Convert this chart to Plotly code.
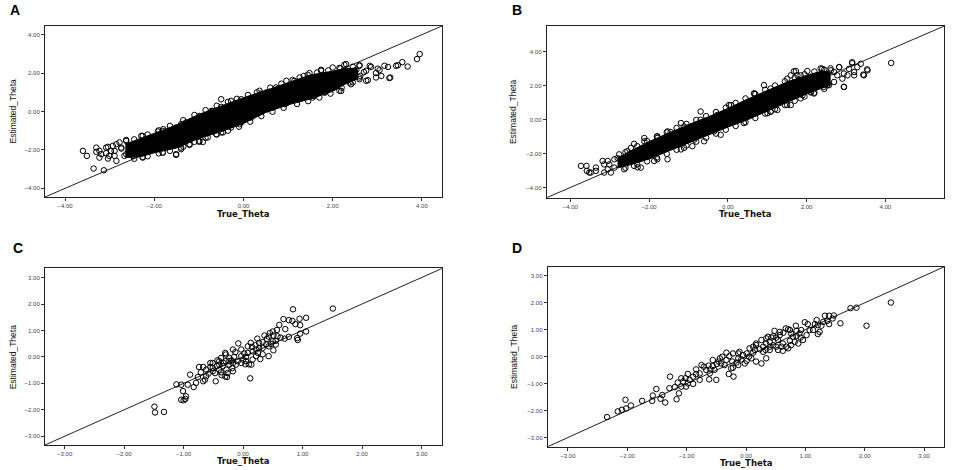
import plotly.graph_objects as go

# ---------------- Panel A ----------------
# outline of the solid (fully overlapped) part of the point cloud
a_core_top_x = [-2.65, -2.3, -2.0, -1.5, -1.0, -0.5, 0.0, 0.5, 1.0, 1.5, 2.0, 2.3, 2.55]
a_core_top_y = [-1.7, -1.4, -1.15, -0.7, -0.15, 0.3, 0.72, 1.1, 1.5, 1.9, 2.1, 2.25, 2.25]
a_core_bot_x = [2.55, 2.3, 2.0, 1.5, 1.0, 0.5, 0.0, -0.5, -1.0, -1.5, -2.0, -2.3, -2.65]
a_core_bot_y = [1.7, 1.45, 1.05, 0.65, 0.35, -0.05, -0.62, -1.05, -1.4, -1.9, -2.15, -2.35, -2.4]

# individually visible circles
a_true = [3.95, 3.89, 3.68, 3.56, 3.42, 3.27, 3.16, 3.05, 2.97, 2.83, 2.75, 2.60, 2.53, 2.45, 2.75,
          2.60, 2.38, 2.15, 2.0, 1.82, 1.55, 1.29, 1.11, 0.96, 0.66, 0.36, 0.51, 0.73, 0.96, 1.26,
          1.48, 1.74, 2.0, 2.30, 2.17, -0.50, -0.69, -0.99, -1.29, -1.51, -1.81, -2.26, -2.63, -2.78,
          -2.93, -3.08, -3.30, -3.30, -3.60, -3.51, -3.23, -3.08, -3.04, -2.89, -2.85, -3.36, -3.13,
          -2.63, -2.48, -2.26, -1.81, -1.51, -1.40, -1.21, -0.99, -0.91, -0.61, -0.46, -0.09, 0.21,
          -3.23, -2.97, -2.74, -2.52,
          -2.63, -2.29, -1.92, -1.80, -1.40, -1.17, -0.72, -0.50, -0.28, -0.05,
          -2.26, -1.81, -1.51, -1.40, -1.21, -0.99, -0.80, -0.50, -0.28, -0.05, 0.17,
          -3.19, -3.04, -3.01, -2.89, -2.85, -2.74, -2.67,
          0.40, 0.70, 1.14, 1.44, 1.74, 2.26, 2.60, 2.86, 3.01, 3.24, 3.46, 3.29, 3.09, 2.97, 2.79, 2.60,
          0.55, 0.92, 1.22, 1.59, 1.82, 2.19, 2.41, 2.50, 2.62, 2.45, 2.70]
a_est = [2.99, 2.73, 2.34, 2.57, 2.38, 1.74, 2.38, 2.15, 2.0, 2.38, 2.12, 2.38, 2.17, 1.94, 1.60,
         1.68, 1.51, 1.08, 1.25, 0.99, 0.73, 0.73, 0.56, 0.42, 0.21, 1.08, 0.99, 1.25, 1.60, 1.77,
         2.0, 2.17, 2.29, 2.47, 2.24, 0.64, 0.03, -0.23, -0.57, -0.83, -1.01, -1.27, -1.53, -1.61,
         -1.79, -1.88, -1.88, -2.10, -2.05, -2.31, -2.40, -2.17, -2.45, -2.31, -2.57, -2.97, -3.06,
         -2.22, -2.31, -2.40, -2.14, -2.22, -1.96, -1.74, -1.53, -1.58, -1.18, -1.09, -0.66, -0.23,
         -2.05, -2.05, -1.93, -1.88,
         -1.48, -1.27, -1.04, -0.92, -0.66, -0.49, 0.03, 0.24, 0.55, 0.64,
         -2.36, -2.14, -2.26, -1.88, -1.70, -1.58, -1.35, -1.09, -0.83, -0.57, -0.31,
         -2.22, -1.84, -2.31, -2.05, -1.70, -1.88, -2.31,
         0.94, 1.07, 1.59, 1.91, 2.12, 2.43, 2.41, 2.32, 2.23, 2.32, 2.41, 1.77, 1.85, 1.77, 1.63, 1.77,
         0.12, 0.38, 0.64, 0.81, 0.99, 1.07, 1.42, 2.0, 1.85, 1.75, 2.05]
# circles sitting on the rim of the solid cloud
a_rim_true = [-2.45, -2.15, -1.9, -1.65, -1.35, -1.1, -0.85, -0.6, -0.35, -0.15, 0.1, 0.3, 0.6, 0.85,
              1.1, 1.35, 1.65, 1.9, 2.15, 2.45,
              -2.45, -2.15, -1.9, -1.65, -1.35, -1.1, -0.85, -0.6, -0.35, -0.1, 0.15, 0.4, 0.65, 0.9,
              1.2, 1.45, 1.7, 1.95, 2.2, 2.45]
a_rim_est = [-1.45, -1.2, -0.98, -0.75, -0.45, -0.18, 0.07, 0.3, 0.5, 0.66, 0.86, 1.0, 1.24, 1.45,
             1.64, 1.85, 2.03, 2.14, 2.27, 2.33,
             -2.46, -2.33, -2.18, -2.05, -1.83, -1.58, -1.37, -1.2, -1.0, -0.79, -0.53, -0.24, -0.01,
             0.19, 0.39, 0.54, 0.73, 0.93, 1.24, 1.52]

# ---------------- Panel B ----------------
b_core_top_x = [-2.8, -2.5, -2.0, -1.5, -1.0, -0.5, 0.0, 0.5, 1.0, 1.5, 2.0, 2.4, 2.6]
b_core_top_y = [-2.25, -1.9, -1.3, -0.8, -0.3, 0.15, 0.65, 1.2, 1.7, 2.2, 2.6, 2.85, 2.8]
b_core_bot_x = [2.6, 2.4, 2.0, 1.5, 1.0, 0.5, 0.0, -0.5, -1.0, -1.5, -2.0, -2.5, -2.8]
b_core_bot_y = [2.0, 1.85, 1.5, 1.0, 0.5, -0.02, -0.45, -0.92, -1.38, -1.88, -2.32, -2.68, -2.85]

b_true = [4.15, 3.54, 3.38, 3.16, 3.29, 3.08, 3.21, 3.44, 2.95, 2.83, 2.70, 2.62, 2.57, 2.44, 2.40,
          2.28, 2.11, 1.90, 1.68, 1.77, 1.51, 1.26, 1.09, 0.92, 0.67, 0.41, 0.03, -0.69, -1.19, -1.53,
          -1.79, -2.12, -2.38, -2.55, -2.76, -2.88, -3.05, -3.14, -3.35, -3.52, -3.59, -3.73, -3.58,
          -3.35, -3.14, -3.05, -2.88, -2.63, -2.38, -2.21, -1.79, -1.53, -1.19, -0.85, -0.35, 0.41,
          1.01, 1.51, 1.85, 2.11, 3.04, 2.91, 2.78,
          -3.48, -3.18, -3.01, -2.97, -2.80, -2.63, -2.50, -2.46, -2.29,
          -2.12, -1.79, -1.45, -1.11, -0.69, -0.26,
          -1.87, -1.11, -0.90, -0.60, -0.18,
          0.08, 0.67, 1.09, 1.60, 1.73, 1.85, 2.02, 2.36, 2.61, 2.83, 3.16, 3.55, 3.46, 3.21, 2.95,
          1.09, 1.60, 2.19, 2.53, 2.95, 2.70]
b_est = [3.33, 2.95, 3.28, 3.37, 3.08, 2.98, 2.79, 2.64, 1.92, 3.08, 2.79, 2.89, 2.02, 1.92, 2.98,
         2.60, 1.63, 1.43, 2.83, 2.60, 2.40, 0.56, 0.47, 2.02, 1.53, 0.85, 0.85, 0.47, -0.21, -0.70,
         -1.09, -1.09, -1.43, -1.86, -2.05, -2.34, -2.44, -2.64, -2.83, -3.12, -2.73, -2.73, -3.02,
         -3.02, -3.12, -2.93, -2.83, -2.93, -2.73, -2.83, -2.34, -2.34, -1.76, -1.18, -0.70, -0.21,
         0.37, 0.85, 1.24, 1.59, 2.60, 2.40, 2.60,
         -3.12, -2.44, -2.64, -3.12, -2.27, -2.56, -2.06, -1.67, -2.81,
         -1.28, -0.99, -0.74, -0.41, -0.02, 0.27,
         -2.44, -1.67, -1.57, -1.28, -0.90,
         0.85, 1.53, 1.82, 2.60, 2.85, 2.60, 2.85, 3.01, 3.01, 3.08, 3.31, 2.89, 2.60, 2.60, 2.70,
         0.46, 0.85, 1.53, 2.01, 1.92, 2.21]
b_rim_true = [-2.6, -2.3, -2.05, -1.8, -1.55, -1.3, -1.05, -0.8, -0.55, -0.3, -0.05, 0.2, 0.45, 0.7,
              0.95, 1.2, 1.45, 1.7, 1.95, 2.2, 2.45,
              -2.6, -2.3, -2.05, -1.8, -1.55, -1.3, -1.05, -0.8, -0.55, -0.3, -0.05, 0.2, 0.45, 0.7,
              0.95, 1.2, 1.45, 1.7, 1.95, 2.2, 2.45]
b_rim_est = [-1.93, -1.57, -1.27, -1.0, -0.76, -0.5, -0.26, -0.03, 0.2, 0.44, 0.7, 0.97, 1.24, 1.5,
             1.75, 2.0, 2.25, 2.45, 2.66, 2.82, 2.93,
             -2.84, -2.64, -2.46, -2.24, -2.02, -1.78, -1.53, -1.3, -1.07, -0.83, -0.6, -0.38, -0.16,
             0.09, 0.35, 0.6, 0.85, 1.1, 1.35, 1.58, 1.8]

# ---------------- Panel C ----------------
c_true = [1.51, 0.84, 0.68, 0.77, 0.83, 0.95, 1.06, 0.88, 0.96, 0.61, 0.71, 0.57, 1.06, 0.96, 0.77,
          0.70, 0.91, 0.92, 0.50, 0.45, 0.51, 0.58, 0.63, 0.55, 0.43, 0.36, 0.40, 0.33, 0.39, 0.24,
          0.27, 0.21, 0.15, -0.08, 0.51, 0.43, 0.33, 0.29, 0.12, 0.22, 0.16, 0.08, 0.02, 0.05, -0.03,
          0.0, -0.09, 0.10, 0.04, -0.15, -0.19, -0.23, -0.29, -0.30, -0.37, -0.40, -0.33, -0.23, -0.18,
          -0.28, -0.27, -0.30, -0.36, -0.46, -0.44, -0.51, -0.55, -0.51, -0.58, -0.62, -0.67, -0.74,
          -0.71, -0.76, -0.79, -0.83, -0.89, -0.93, -1.04, -1.12, -1.01, -0.96, -0.97, -1.04, -1.00,
          -1.49, -1.48, -1.33, -0.64, -0.67, -0.37, -0.13, -0.17, -0.29, -0.43, -0.51, 0.16, 0.22,
          0.25, 0.43, 0.47, 0.33, 0.27, 0.13, 0.08, -0.03, 0.50, 0.55, -0.17, -0.12, -0.03, -0.23,
          -0.34, -0.40, -0.55, -0.62, -0.40, -0.47, -0.17, -0.26, 0.05, 0.14]
c_est = [1.83, 1.80, 1.43, 1.39, 1.36, 1.44, 1.48, 1.24, 1.20, 1.21, 1.05, 1.02, 0.96, 0.88, 0.76,
         0.69, 0.71, 0.64, 0.96, 0.90, 0.81, 0.78, 0.73, 0.61, 0.77, 0.81, 0.68, 0.56, 0.47, 0.69,
         0.53, 0.44, 0.38, 0.51, 0.25, 0.03, 0.10, -0.08, -0.81, 0.28, 0.21, 0.15, 0.13, 0.0, 0.03,
         -0.10, -0.16, -0.28, -0.28, 0.0, -0.13, -0.04, 0.09, 0.15, -0.04, -0.16, -0.23, -0.29, -0.42,
         -0.48, -0.76, -0.74, -0.69, -0.92, -0.35, -0.42, -0.38, -0.54, -0.63, -0.73, -0.38, -0.38,
         -0.58, -0.76, -0.98, -1.14, -0.67, -1.05, -1.05, -1.04, -1.29, -1.49, -1.59, -1.62, -1.64,
         -1.88, -2.10, -2.08, -0.86, -0.92, -0.58, 0.18, 0.28, -0.16, -0.13, -0.23, -0.10, 0.03,
         0.15, 0.40, 0.49, 0.34, 0.34, 0.53, 0.40, 0.28, 0.59, 0.47, -0.23, -0.29, -0.23, -0.16,
         -0.35, -0.48, -0.23, -0.48, -0.29, -0.61, -0.54, -0.61, -0.16, -0.29]

# ---------------- Panel D ----------------
d_true = [2.44, 2.03, 1.86, 1.76, 1.59, 1.48, 1.40, 1.33, 1.37, 1.40, 1.27, 1.21, 1.19, 1.24, 1.21,
          1.13, 1.04, 0.99, 0.93, 1.02, 0.96, 0.92, 0.85, 0.84, 0.74, 0.71, 0.79, 0.74, 0.63, 0.57,
          0.48, 0.54, 0.62, 0.68, 0.71, 0.62, 0.54, 0.46, 0.40, 0.37, 0.43, 0.34, 0.29, 0.33, 0.23,
          0.17, 0.15, 0.12, 0.26, 0.05, 0.01, -0.05, -0.08, 0.01, -0.13, -0.16, -0.23, -0.28, -0.33,
          -0.36, -0.40, -0.44, -0.46, -0.49, -0.56, -0.53, -0.29, -0.22, -0.60, -0.63, -0.67, -0.71,
          -0.62, -0.50, -0.78, -0.84, -0.89, -0.98, -1.02, -1.06, -0.98, -0.89, -1.01, -1.09, -1.13,
          -1.17, -1.20, -1.28, -1.29, -1.36, -1.41, -1.44, -1.51, -1.57, -1.58, -1.75, -2.03, -1.94,
          -2.02, -2.09, -2.16, -2.34, 0.88, 0.82, 0.51, 0.40, 0.34, 0.17, 0.09, -0.11, -0.22, -0.33,
          -0.42, -0.21, -0.25, -0.13, -0.02, 0.06, 0.17, 0.26, 0.34, 0.46, 0.51, 0.57, 0.67, 0.85,
          1.07, 1.16, 1.30, 1.46, -0.84, -0.75, -0.95, -1.09, -1.15, -0.78, -0.61, -0.56, -0.13,
          0.12, 0.29, 0.40, 0.60, 0.76, 0.76, 0.90]
d_est = [2.01, 1.15, 1.82, 1.80, 1.24, 1.53, 1.52, 1.52, 1.33, 1.21, 1.15, 1.17, 1.36, 0.92, 0.84,
         0.99, 1.21, 1.28, 0.99, 0.80, 0.62, 0.71, 0.96, 1.15, 0.99, 1.02, 0.74, 0.59, 0.89, 0.80,
         0.96, 0.62, 0.49, 0.37, 0.31, 0.22, 0.25, 0.43, 0.55, 0.74, 0.71, 0.49, 0.37, 0.25, 0.28,
         0.43, 0.25, 0.15, -0.25, 0.0, 0.12, 0.06, -0.10, -0.16, -0.06, -0.22, -0.18, 0.02, -0.12,
         -0.31, 0.0, -0.06, -0.18, -0.27, -0.35, -0.49, -0.64, -0.41, -0.47, -0.33, -0.49, -0.37,
         -0.84, -0.86, -0.62, -0.65, -0.74, -0.64, -0.80, -0.92, -0.99, -1.01, -1.11, -1.11, -1.36,
         -1.58, -1.13, -0.74, -1.17, -1.70, -1.42, -1.56, -1.20, -1.44, -1.64, -1.64, -1.60, -1.81,
         -1.92, -1.97, -2.03, -2.24, 0.49, 0.55, 0.37, 0.25, -0.06, -0.18, -0.06, 0.18, 0.12, 0.15,
         -0.25, -0.74, -0.43, -0.31, -0.25, 0.31, 0.49, 0.62, 0.68, 0.76, 0.71, 0.92, 1.05, 0.76,
         0.99, 1.21, 1.29, 1.42, -0.47, -0.31, -0.86, -0.80, -0.96, -0.86, -0.62, -0.12, 0.12,
         0.37, 0.18, 0.37, 0.37, 0.43, 0.86, 0.86]

# tick values and axis ranges (identity line runs corner to corner)
ab_ticks = [-4, -2, 0, 2, 4]
cd_ticks = [-3, -2, -1, 0, 1, 2, 3]
range_a = [-4.45, 4.45]
range_b = [-4.6, 5.5]
range_c = [-3.33, 3.35]
range_d = [-3.34, 3.34]

# ---------------- layout helpers (page body margin removed below) ----------------
W, H = 964, 470


def xfrac(px):
    return px / W


def yfrac(py):
    return 1 - py / H


panels = [
    dict(name="A", core=(a_core_top_x, a_core_top_y, a_core_bot_x, a_core_bot_y),
         pts=(a_true + a_rim_true, a_est + a_rim_est), rng=range_a, ticks=ab_ticks,
         box=(45, 442, 26, 197), xt=-17, yt=-32, lab=(15, 10)),
    dict(name="B", core=(b_core_top_x, b_core_top_y, b_core_bot_x, b_core_bot_y),
         pts=(b_true + b_rim_true, b_est + b_rim_est), rng=range_b, ticks=ab_ticks,
         box=(546.7, 944.3, 26, 197.7), xt=-16, yt=-33.5, lab=(517, 10)),
    dict(name="C", core=None, pts=(c_true, c_est), rng=range_c, ticks=cd_ticks,
         box=(45, 442.3, 268.3, 445), xt=-15.5, yt=-32.3, lab=(18, 248)),
    dict(name="D", core=None, pts=(d_true, d_est), rng=range_d, ticks=cd_ticks,
         box=(547.7, 944.3, 266.7, 446.7), xt=-16.5, yt=-34.4, lab=(517, 248)),
]

fig = go.Figure()
layout = dict(
    width=W, height=H,
    margin=dict(l=0, r=0, t=0, b=0),
    paper_bgcolor="white", plot_bgcolor="white",
    showlegend=False,
    font=dict(family="Liberation Sans, Arial, sans-serif", color="black"),
)
annotations = []

for i, p in enumerate(panels, start=1):
    xa = "x" if i == 1 else f"x{i}"
    ya = "y" if i == 1 else f"y{i}"
    # identity reference line (drawn first so the dense cloud covers it)
    fig.add_trace(go.Scatter(x=p["rng"], y=p["rng"], mode="lines",
                             line=dict(color="#222", width=1), xaxis=xa, yaxis=ya,
                             hoverinfo="skip"))
    if p["core"] is not None:
        tx, ty, bx, by = p["core"]
        fig.add_trace(go.Scatter(x=tx + bx, y=ty + by, mode="lines", fill="toself",
                                 fillcolor="black", line=dict(color="black", width=1),
                                 xaxis=xa, yaxis=ya, hoverinfo="skip"))
    fig.add_trace(go.Scatter(x=p["pts"][0], y=p["pts"][1], mode="markers",
                             marker=dict(symbol="circle-open", size=5.5, color="black",
                                         line=dict(width=1, color="black")),
                             xaxis=xa, yaxis=ya))
    x0, x1, y0, y1 = p["box"]
    axis_common = dict(showgrid=False, zeroline=False, showline=True, linecolor="#222",
                       linewidth=1, mirror=True, ticks="outside", ticklen=3, tickwidth=1,
                       tickcolor="#333", tickvals=p["ticks"], tickformat=".2f",
                       tickfont=dict(size=6, color="#444", family="Liberation Sans, Arial"),
                       range=p["rng"], fixedrange=True, automargin=False)
    layout["xaxis" if i == 1 else f"xaxis{i}"] = dict(axis_common,
                                                      domain=[xfrac(x0), xfrac(x1)], anchor=ya)
    layout["yaxis" if i == 1 else f"yaxis{i}"] = dict(axis_common,
                                                      domain=[yfrac(y1), yfrac(y0)], anchor=xa)
    annotations.append(dict(text="<b>True_Theta</b>", xref=f"{xa} domain", yref=f"{ya} domain",
                            x=0.5, y=0, yshift=p["xt"], xanchor="center", yanchor="middle",
                            showarrow=False,
                            font=dict(size=8.5, family="DejaVu Sans, Liberation Sans", color="#111")))
    annotations.append(dict(text="Estimated_Theta", xref=f"{xa} domain", yref=f"{ya} domain",
                            x=0, xshift=p["yt"], y=0.5, xanchor="center", yanchor="middle",
                            textangle=-90, showarrow=False,
                            font=dict(size=8.5, family="Liberation Sans Narrow, Liberation Sans, Arial",
                                      color="#111")))
    lx, ly = p["lab"]
    annotations.append(dict(text=f"<b>{p['name']}</b>", xref="paper", yref="paper",
                            x=xfrac(lx), y=yfrac(ly), xanchor="center", yanchor="middle",
                            showarrow=False,
                            font=dict(size=14, family="Liberation Sans, Arial", color="black")))

layout["annotations"] = annotations
fig.update_layout(**layout)
fig.write_html("out.html",
               config={"displayModeBar": False, "staticPlot": True},
               post_script="document.body.style.margin='0';document.body.style.overflow='hidden';")
